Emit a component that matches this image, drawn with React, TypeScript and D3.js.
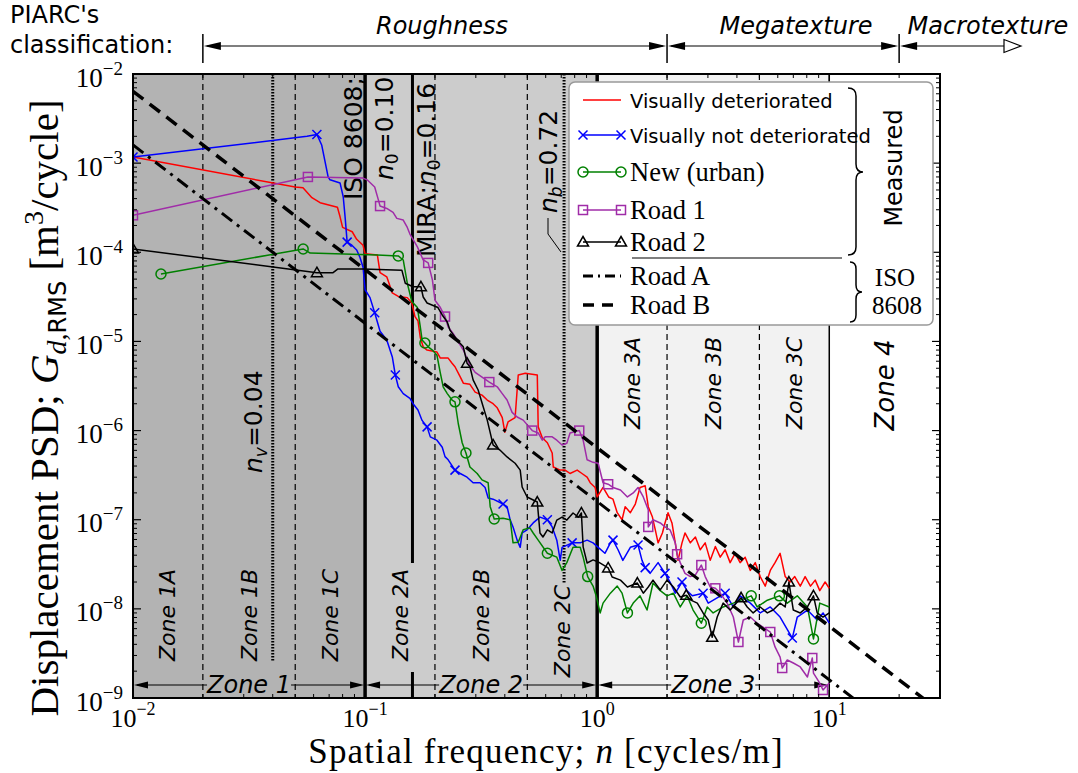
import React from "react";
import * as d3 from "d3";

type P = [number, number];

// ---------- data ----------
const xTickExponents = [-2, -1, 0, 1];
const yTickExponents = [-9, -8, -7, -6, -5, -4, -3, -2];

const zoneEdges = [0.01, 0.1, 1, 10, 30];
const subZoneEdges = [0.02, 0.05, 0.2, 0.5, 2, 5];
const mainZoneEdges = [0.1, 1];
const zone3End = 10;
const miraN0 = 0.16;
const nvValue = 0.04;
const nbValue = 0.72;
const piarcEdges = [0.02, 2, 20];

const roadA: P[] = [[0.01, 1.6e-3], [20, 4.0e-10]];
const roadB: P[] = [[0.01, 6.4e-3], [30, 7.1e-10]];

const redSeries: P[] = [
  [0.01, 1.17e-3], [0.05, 5.4e-4], [0.054, 5.3e-4], [0.059, 4.1e-4], [0.064, 3.6e-4], [0.076, 3.2e-4],
  [0.078, 2.5e-4], [0.08, 1.9e-4], [0.088, 1.7e-4], [0.092, 1.4e-4], [0.098, 1.2e-4], [0.1, 9.6e-5],
  [0.113, 9.3e-5], [0.116, 5.9e-5], [0.124, 5.3e-5], [0.131, 3.5e-5], [0.139, 3.2e-5], [0.152, 3.1e-5],
  [0.159, 2.7e-5], [0.164, 1.9e-5], [0.169, 1.7e-5], [0.173, 1.1e-5], [0.178, 8.7e-6], [0.185, 8.0e-6],
  [0.204, 7.6e-6], [0.211, 6.5e-6], [0.228, 6.5e-6], [0.237, 5.7e-6], [0.244, 5.2e-6], [0.257, 4.0e-6],
  [0.265, 3.4e-6], [0.283, 3.3e-6], [0.298, 2.7e-6], [0.319, 2.5e-6], [0.336, 2.2e-6], [0.356, 2.0e-6],
  [0.371, 1.8e-6], [0.39, 1.4e-6], [0.4, 9.6e-7], [0.413, 1.25e-6], [0.443, 1.4e-6], [0.457, 4.2e-6],
  [0.49, 4.4e-6], [0.552, 4.2e-6], [0.557, 1.1e-6], [0.58, 8.3e-7], [0.61, 7.3e-7], [0.64, 5.6e-7],
  [0.647, 3.9e-7], [0.693, 3.6e-7], [0.728, 3.6e-7], [0.764, 3.3e-7], [0.82, 3.6e-7], [0.86, 3.3e-7],
  [0.905, 3.0e-7], [0.933, 2.6e-7], [0.98, 2.3e-7], [1.0, 1.8e-7], [1.06, 2.3e-7], [1.12, 1.8e-7],
  [1.17, 1.7e-7], [1.22, 1.2e-7], [1.28, 1.0e-7], [1.32, 1.4e-7], [1.39, 1.2e-7], [1.46, 1.5e-7],
  [1.53, 2.3e-7], [1.61, 2.4e-7], [1.66, 1.4e-7], [1.73, 1.07e-7], [1.78, 7.7e-8], [1.83, 5.5e-8],
  [1.91, 7.1e-8], [1.96, 9.2e-8], [2.02, 1.2e-7], [2.1, 9.2e-8], [2.17, 5.5e-8], [2.23, 3.5e-8],
  [2.32, 5.5e-8], [2.39, 7.1e-8], [2.52, 5.5e-8], [2.65, 6.4e-8], [2.78, 4.6e-8], [2.92, 5.5e-8],
  [3.07, 3.5e-8], [3.23, 5.0e-8], [3.39, 3.8e-8], [3.56, 4.6e-8], [3.74, 3.3e-8], [3.93, 4.2e-8],
  [4.13, 3.3e-8], [4.34, 3.8e-8], [4.57, 2.7e-8], [4.8, 3.3e-8], [5.04, 2.3e-8], [5.3, 1.8e-8],
  [5.57, 2.7e-8], [5.84, 3.3e-8], [6.14, 4.2e-8], [6.46, 2.3e-8], [6.78, 2.0e-8], [7.1, 2.3e-8],
  [7.5, 1.8e-8], [7.87, 2.3e-8], [8.3, 1.8e-8], [8.7, 2.1e-8], [9.1, 1.6e-8], [9.6, 2.0e-8], [10, 1.7e-8],
];

const blueSeries: P[] = [
  [0.01, 1.17e-3], [0.0562, 2.0e-3], [0.062, 2.1e-3], [0.065, 1.6e-3], [0.0693, 7.0e-4], [0.0706, 6.5e-4],
  [0.078, 6.0e-4], [0.0805, 4.2e-4], [0.082, 2.5e-4], [0.0837, 1.3e-4], [0.0877, 1.2e-4], [0.092, 1.06e-4],
  [0.095, 8.8e-5], [0.098, 6.8e-5], [0.1, 3.8e-5], [0.105, 3.1e-5], [0.11, 2.1e-5], [0.116, 1.3e-5],
  [0.124, 1.04e-5], [0.131, 6.7e-6], [0.135, 4.2e-6], [0.139, 3.1e-6], [0.146, 2.6e-6], [0.156, 2.3e-6],
  [0.161, 2.0e-6], [0.169, 1.7e-6], [0.176, 1.3e-6], [0.185, 1.1e-6], [0.191, 8.5e-7], [0.204, 7.8e-7],
  [0.215, 6.5e-7], [0.221, 5.1e-7], [0.228, 4.7e-7], [0.244, 3.6e-7], [0.257, 3.3e-7], [0.275, 3.0e-7],
  [0.292, 2.6e-7], [0.313, 2.6e-7], [0.329, 2.3e-7], [0.339, 1.75e-7], [0.356, 1.7e-7], [0.393, 1.5e-7],
  [0.409, 1.4e-7], [0.422, 9.9e-8], [0.434, 8.3e-8], [0.452, 5.9e-8], [0.466, 4.9e-8], [0.475, 7.1e-8],
  [0.499, 7.7e-8], [0.53, 9.2e-8], [0.567, 1.07e-7], [0.61, 1.0e-7], [0.64, 8.3e-8], [0.67, 5.9e-8],
  [0.693, 3.5e-8], [0.706, 4.9e-8], [0.78, 5.5e-8], [0.845, 5.5e-8], [0.905, 5.9e-8], [0.96, 5.5e-8],
  [1.01, 4.9e-8], [1.08, 4.2e-8], [1.14, 5.5e-8], [1.17, 5.9e-8], [1.23, 4.6e-8], [1.29, 3.5e-8],
  [1.39, 4.9e-8], [1.5, 5.2e-8], [1.56, 3.5e-8], [1.61, 2.9e-8], [1.69, 2.5e-8], [1.78, 3.0e-8],
  [1.83, 3.3e-8], [1.96, 2.5e-8], [2.06, 2.0e-8], [2.17, 1.5e-8], [2.32, 2.0e-8], [2.44, 1.6e-8],
  [2.57, 1.4e-8], [2.86, 1.5e-8], [3.01, 1.16e-8], [3.56, 1.5e-8], [3.86, 1.05e-8], [4.13, 1.4e-8],
  [4.57, 1.16e-8], [5.04, 9.0e-9], [5.57, 1.05e-8], [6.14, 8.1e-9], [6.93, 4.7e-9], [7.28, 8.1e-9],
  [8.05, 9.7e-9], [8.87, 7.5e-9], [9.4, 9.0e-9], [10, 6.9e-9],
];
const blueMarkers: P[] = [
  [0.01, 1.17e-3], [0.062, 2.1e-3], [0.0837, 1.3e-4], [0.11, 2.1e-5], [0.135, 4.2e-6], [0.185, 1.1e-6],
  [0.244, 3.6e-7], [0.393, 1.5e-7], [0.61, 1.0e-7], [0.78, 5.5e-8], [1.17, 5.9e-8], [1.5, 5.2e-8],
  [1.61, 2.9e-8], [1.96, 2.5e-8], [2.32, 2.0e-8], [2.86, 1.5e-8], [3.56, 1.5e-8], [6.93, 4.7e-9],
];

const greenSeries: P[] = [
  [0.0132, 5.7e-5], [0.0541, 1.09e-4], [0.058, 9.8e-5], [0.113, 9.3e-5], [0.139, 9.1e-5], [0.146, 8.2e-5],
  [0.152, 4.5e-5], [0.159, 2.8e-5], [0.168, 2.4e-5], [0.173, 1.45e-5], [0.176, 1.04e-5], [0.181, 9.6e-6],
  [0.187, 8.7e-6], [0.195, 8.0e-6], [0.204, 7.0e-6], [0.211, 4.4e-6], [0.217, 3.1e-6], [0.226, 2.6e-6],
  [0.237, 2.2e-6], [0.244, 2.1e-6], [0.252, 1.2e-6], [0.262, 7.3e-7], [0.272, 5.6e-7], [0.283, 3.9e-7],
  [0.304, 3.3e-7], [0.319, 2.8e-7], [0.339, 2.6e-7], [0.346, 1.4e-7], [0.36, 1.02e-7], [0.393, 1.04e-7],
  [0.422, 1.0e-7], [0.434, 5.5e-8], [0.457, 5.6e-8], [0.48, 7.7e-8], [0.513, 8.1e-8], [0.53, 7.1e-8],
  [0.557, 5.9e-8], [0.61, 4.2e-8], [0.64, 4.0e-8], [0.67, 3.8e-8], [0.706, 2.7e-8], [0.74, 3.3e-8],
  [0.787, 4.9e-8], [0.845, 4.9e-8], [0.87, 3.8e-8], [0.91, 2.3e-8], [0.96, 1.8e-8], [0.99, 1.4e-8],
  [1.03, 9.0e-9], [1.06, 1.16e-8], [1.14, 1.5e-8], [1.22, 1.8e-8], [1.28, 1.5e-8], [1.35, 9.0e-9],
  [1.43, 1.16e-8], [1.53, 1.4e-8], [1.64, 9.7e-9], [1.74, 1.95e-8], [1.87, 1.6e-8], [2.0, 1.4e-8],
  [2.13, 1.5e-8], [2.28, 1.05e-8], [2.44, 1.4e-8], [2.59, 9.7e-9], [2.81, 6.9e-9], [2.98, 1.05e-8],
  [3.16, 9.0e-9], [3.49, 1.05e-8], [3.86, 1.16e-8], [4.61, 1.4e-8], [4.89, 1.05e-8], [5.41, 1.25e-8],
  [6.1, 1.4e-8], [6.59, 1.16e-8], [7.28, 1.4e-8], [8.05, 1.05e-8], [8.55, 4.6e-9], [9.1, 1.16e-8],
  [10, 1.05e-8],
];
const greenMarkers: P[] = [
  [0.0132, 5.7e-5], [0.0541, 1.09e-4], [0.139, 9.1e-5], [0.181, 9.6e-6], [0.244, 2.1e-6], [0.272, 5.6e-7],
  [0.36, 1.02e-7], [0.61, 4.2e-8], [0.91, 2.3e-8], [1.35, 9.0e-9], [2.81, 6.9e-9], [4.61, 1.4e-8],
  [6.1, 1.4e-8], [8.55, 4.6e-9],
];

const purpleSeries: P[] = [
  [0.01, 2.6e-4], [0.0567, 7.0e-4], [0.098, 6.8e-4], [0.102, 6.5e-4], [0.11, 5.4e-4], [0.114, 3.9e-4],
  [0.116, 3.3e-4], [0.124, 3.1e-4], [0.132, 2.8e-4], [0.137, 2.4e-4], [0.146, 2.3e-4], [0.152, 1.9e-4],
  [0.156, 1.6e-4], [0.168, 1.15e-4], [0.178, 8.2e-5], [0.187, 7.6e-5], [0.195, 4.9e-5], [0.2, 2.9e-5],
  [0.211, 2.4e-5], [0.221, 1.9e-5], [0.228, 1.45e-5], [0.239, 1.24e-5], [0.249, 1.04e-5], [0.265, 8.0e-6],
  [0.283, 5.4e-6], [0.298, 4.5e-6], [0.343, 3.5e-6], [0.371, 3.1e-6], [0.39, 2.6e-6], [0.409, 2.2e-6],
  [0.43, 1.6e-6], [0.452, 1.42e-6], [0.48, 1.31e-6], [0.525, 1.0e-6], [0.557, 9.4e-7], [0.58, 7.8e-7],
  [0.597, 8.5e-7], [0.64, 8.5e-7], [0.67, 7.8e-7], [0.706, 6.9e-7], [0.74, 7.2e-7], [0.764, 9.4e-7],
  [0.837, 1.0e-6], [0.87, 7.8e-7], [0.905, 4.7e-7], [0.96, 4.4e-7], [1.01, 4.3e-7], [1.06, 2.6e-7],
  [1.115, 2.5e-7], [1.17, 2.3e-7], [1.26, 2.15e-7], [1.35, 1.8e-7], [1.43, 2.0e-7], [1.5, 2.3e-7],
  [1.58, 1.8e-7], [1.66, 1.29e-7], [1.66, 8.3e-8], [1.74, 1.0e-7], [1.87, 9.2e-8], [1.96, 8.3e-8],
  [2.06, 7.7e-8], [2.17, 5.5e-8], [2.21, 4.1e-8], [2.28, 3.3e-8], [2.39, 2.5e-8], [2.52, 2.3e-8],
  [2.65, 2.4e-8], [2.81, 3.1e-8], [2.92, 2.3e-8], [3.07, 1.76e-8], [3.23, 1.7e-8], [3.39, 1.5e-8],
  [3.63, 1.16e-8], [3.86, 8.1e-9], [4.06, 4.25e-9], [4.26, 7.5e-9], [4.57, 8.1e-9], [4.89, 6.9e-9],
  [5.57, 5.5e-9], [5.84, 3.74e-9], [6.14, 2.88e-9], [6.27, 2.17e-9], [6.59, 2.67e-9], [7.0, 2.47e-9],
  [7.5, 2.23e-9], [8.05, 1.72e-9], [8.45, 2.81e-9], [8.55, 1.9e-9], [9.1, 1.47e-9], [9.4, 1.23e-9],
  [10, 1.47e-9],
];
const purpleMarkers: P[] = [
  [0.01, 2.6e-4], [0.0567, 7.0e-4], [0.116, 3.3e-4], [0.187, 7.6e-5], [0.221, 1.9e-5], [0.343, 3.5e-6],
  [0.525, 1.0e-6], [0.837, 1.0e-6], [1.115, 2.5e-7], [1.66, 8.3e-8], [2.21, 4.1e-8], [2.81, 3.1e-8],
  [3.23, 1.7e-8], [4.06, 4.25e-9], [5.57, 5.5e-9], [6.27, 2.17e-9], [8.45, 2.81e-9], [9.4, 1.23e-9],
];

const blackSeries: P[] = [
  [0.01, 1.09e-4], [0.062, 5.9e-5], [0.0728, 5.9e-5], [0.0764, 6.5e-5], [0.098, 6.5e-5], [0.144, 6.3e-5],
  [0.149, 4.5e-5], [0.161, 4.1e-5], [0.174, 4.1e-5], [0.178, 3.15e-5], [0.185, 2.7e-5], [0.206, 2.4e-5],
  [0.215, 1.98e-5], [0.226, 1.65e-5], [0.232, 1.34e-5], [0.249, 1.04e-5], [0.265, 8.7e-6], [0.275, 5.7e-6],
  [0.283, 5.2e-6], [0.292, 3.7e-6], [0.307, 2.85e-6], [0.323, 1.84e-6], [0.336, 1.31e-6], [0.356, 6.9e-7],
  [0.381, 6.05e-7], [0.409, 5.06e-7], [0.443, 4.3e-7], [0.466, 3.6e-7], [0.475, 2.33e-7], [0.499, 1.8e-7],
  [0.552, 1.58e-7], [0.567, 7.1e-8], [0.584, 6.4e-8], [0.61, 7.7e-8], [0.64, 7.1e-8], [0.67, 9.9e-8],
  [0.706, 1.07e-7], [0.74, 9.9e-8], [0.787, 1.19e-7], [0.83, 1.07e-7], [0.855, 1.19e-7], [0.87, 4.95e-8],
  [0.905, 3.27e-8], [0.96, 3.54e-8], [1.01, 3.36e-8], [1.115, 2.88e-8], [1.16, 2.28e-8], [1.26, 2.1e-8],
  [1.35, 1.76e-8], [1.49, 1.95e-8], [1.58, 1.5e-8], [1.66, 1.76e-8], [1.74, 2.1e-8], [1.87, 1.63e-8],
  [2.0, 2.1e-8], [2.13, 1.76e-8], [2.28, 1.36e-8], [2.42, 1.42e-8], [2.52, 1.26e-8], [2.7, 1.16e-8],
  [2.86, 9.0e-9], [3.01, 7.5e-9], [3.13, 4.8e-9], [3.29, 8.1e-9], [3.49, 1.16e-8], [3.74, 9.7e-9],
  [4.17, 1.33e-8], [4.43, 1.05e-8], [4.7, 9.0e-9], [5.04, 1.05e-8], [5.41, 9.0e-9], [5.73, 9.7e-9],
  [6.14, 1.16e-8], [6.46, 1.05e-8], [6.7, 2.0e-8], [7.0, 9.7e-9], [7.5, 9.0e-9], [8.05, 1.05e-8],
  [8.55, 1.4e-8], [8.87, 9.0e-9], [9.4, 8.1e-9], [10, 9.0e-9],
];
const blackMarkers: P[] = [
  [0.01, 1.09e-4], [0.062, 5.9e-5], [0.174, 4.1e-5], [0.275, 5.7e-6], [0.356, 6.9e-7], [0.552, 1.58e-7],
  [0.855, 1.19e-7], [1.115, 2.88e-8], [1.49, 1.95e-8], [2.42, 1.42e-8], [3.13, 4.8e-9], [4.17, 1.33e-8],
  [6.7, 2.0e-8], [8.55, 1.4e-8],
];

// ---------- layout / style ----------
const PL = 133, PR = 940, PT = 74, PB = 698;
const SERIF = "'Liberation Serif', 'Times New Roman', serif";
const SANS = "'DejaVu Sans', sans-serif";
const PURPLE = "#a02ca8";
const GREEN = "#008000";

type MK = "x" | "o" | "s" | "^" | "none";

function Marker({ t, cx, cy, c }: { t: MK; cx: number; cy: number; c: string }) {
  if (t === "x")
    return (
      <path d={`M${cx - 4.5},${cy - 4.5}L${cx + 4.5},${cy + 4.5}M${cx - 4.5},${cy + 4.5}L${cx + 4.5},${cy - 4.5}`} stroke={c} strokeWidth={1.5} />
    );
  if (t === "o") return <circle cx={cx} cy={cy} r={5} fill="none" stroke={c} strokeWidth={1.5} />;
  if (t === "s") return <rect x={cx - 4.5} y={cy - 4.5} width={9} height={9} fill="none" stroke={c} strokeWidth={1.5} />;
  if (t === "^")
    return <path d={`M${cx},${cy - 5.5}L${cx + 5.5},${cy + 4}L${cx - 5.5},${cy + 4}Z`} fill="none" stroke={c} strokeWidth={1.5} />;
  return null;
}

function head(tip: number, y: number, dir: number, len = 17, hw = 4) {
  return `${tip},${y} ${tip - dir * len},${y - hw} ${tip - dir * len},${y + hw}`;
}

function RotText({ x, y, children, size, family = SANS, anchor = "start", style = "normal" }: any) {
  return (
    <text
      transform={`translate(${x},${y}) rotate(-90)`}
      fontFamily={family}
      fontSize={size}
      fontStyle={style}
      textAnchor={anchor}
    >
      {children}
    </text>
  );
}

function expLabel(e: number) {
  return e < 0 ? "\u2212" + Math.abs(e) : String(e);
}

export default function App() {
  const x = d3.scaleLog().domain([zoneEdges[0], zoneEdges[zoneEdges.length - 1]]).range([PL, PR]);
  const y = d3.scaleLog().domain([1e-9, 1e-2]).range([PB, PT]);
  const line = d3
    .line<P>()
    .x((d) => x(d[0]))
    .y((d) => y(d[1]));

  const zoneFills = ["#b3b3b3", "#cccccc", "#f2f2f2", "#ffffff"];

  const xMinor: number[] = [];
  for (const e of xTickExponents) for (let m = 2; m <= 9; m++) { const v = m * Math.pow(10, e); if (v < 30) xMinor.push(v); }
  const yMinor: number[] = [];
  for (const e of yTickExponents.slice(0, -1)) for (let m = 2; m <= 9; m++) yMinor.push(m * Math.pow(10, e));

  const series: { d: P[]; c: string; m: P[]; t: MK }[] = [
    { d: redSeries, c: "#ff0000", m: [], t: "none" },
    { d: blueSeries, c: "#0000ff", m: blueMarkers, t: "x" },
    { d: greenSeries, c: GREEN, m: greenMarkers, t: "o" },
    { d: purpleSeries, c: PURPLE, m: purpleMarkers, t: "s" },
    { d: blackSeries, c: "#000000", m: blackMarkers, t: "^" },
  ];

  const zoneLabels: { t: string; n0: number; n1: number; cy: number; size: number }[] = [
    { t: "Zone 1A", n0: 0.01, n1: 0.02, cy: 615, size: 22 },
    { t: "Zone 1B", n0: 0.02, n1: 0.05, cy: 615, size: 22 },
    { t: "Zone 1C", n0: 0.05, n1: 0.1, cy: 615, size: 22 },
    { t: "Zone 2A", n0: 0.1, n1: 0.2, cy: 615, size: 22 },
    { t: "Zone 2B", n0: 0.2, n1: 0.5, cy: 615, size: 22 },
    { t: "Zone 2C", n0: 0.5, n1: 1, cy: 631, size: 22 },
    { t: "Zone 3A", n0: 1, n1: 2, cy: 383, size: 22 },
    { t: "Zone 3B", n0: 2, n1: 5, cy: 383, size: 22 },
    { t: "Zone 3C", n0: 5, n1: 10, cy: 383, size: 22 },
    { t: "Zone 4", n0: 10, n1: 30, cy: 385, size: 26 },
  ];

  const bottomZones = [
    { t: "Zone 1", a: 0.01, b: 0.1, fill: zoneFills[0] },
    { t: "Zone 2", a: 0.1, b: 1, fill: zoneFills[1] },
    { t: "Zone 3", a: 1, b: 10, fill: zoneFills[2] },
  ];

  const legendRows: { label: string; serif: boolean; c: string; t: MK; dash?: string; w?: number; y: number }[] = [
    { label: "Visually deteriorated", serif: false, c: "#ff0000", t: "none", y: 100 },
    { label: "Visually not deteriorated", serif: false, c: "#0000ff", t: "x", y: 135 },
    { label: "New (urban)", serif: true, c: GREEN, t: "o", y: 172 },
    { label: "Road 1", serif: true, c: PURPLE, t: "s", y: 210 },
    { label: "Road 2", serif: true, c: "#000", t: "^", y: 242 },
    { label: "Road A", serif: true, c: "#000", t: "none", dash: "10,5,2,5", w: 3, y: 276 },
    { label: "Road B", serif: true, c: "#000", t: "none", dash: "11,8", w: 3.5, y: 305 },
  ];

  const yBand = PB - PT;
  const zoneY = 685;

  return (
    <svg width={1078} height={773} style={{ position: "absolute", left: 0, top: 0, background: "#fff" }}>
      <defs>
        <clipPath id="plot">
          <rect x={PL} y={PT} width={PR - PL} height={yBand} />
        </clipPath>
      </defs>

      {zoneEdges.slice(0, -1).map((e, i) => (
        <rect key={i} x={x(e)} y={PT} width={x(zoneEdges[i + 1]) - x(e)} height={yBand} fill={zoneFills[i]} />
      ))}

      <g clipPath="url(#plot)">
        {subZoneEdges.map((n) => (
          <line key={n} x1={x(n)} x2={x(n)} y1={PT} y2={PB} stroke="#000" strokeWidth={1.2} strokeDasharray="6,4" />
        ))}
        {mainZoneEdges.map((n) => (
          <line key={n} x1={x(n)} x2={x(n)} y1={PT} y2={PB} stroke="#000" strokeWidth={3.5} />
        ))}
        <line x1={x(zone3End)} x2={x(zone3End)} y1={PT} y2={PB} stroke="#000" strokeWidth={1.5} />
        <line x1={x(miraN0)} x2={x(miraN0)} y1={PT} y2={563} stroke="#000" strokeWidth={3} />
        <line x1={x(miraN0)} x2={x(miraN0)} y1={672} y2={PB} stroke="#000" strokeWidth={3} />
        <line x1={x(nvValue)} x2={x(nvValue)} y1={PT} y2={662} stroke="#000" strokeWidth={3} strokeDasharray="1.5,1.5" />
        <line x1={x(nbValue)} x2={x(nbValue)} y1={PT} y2={583} stroke="#000" strokeWidth={3} strokeDasharray="1.5,1.5" />

        {zoneLabels.map((z) => (
          <text
            key={z.t}
            transform={`translate(${(x(z.n0) + x(z.n1)) / 2},${z.cy}) rotate(-90)`}
            fontFamily={SANS}
            fontStyle="italic"
            fontSize={z.size}
            textAnchor="middle"
            dominantBaseline="central"
          >
            {z.t}
          </text>
        ))}

        <RotText x={362} y={200} size={25}>ISO 8608;</RotText>
        <RotText x={393} y={180} size={25}>
          <tspan fontStyle="italic">n</tspan>
          <tspan fontSize={17} dy={5}>0</tspan>
          <tspan dy={-5}>=0.10</tspan>
        </RotText>
        <RotText x={435} y={257} size={25}>
          MIRA;
          <tspan fontStyle="italic">n</tspan>
          <tspan fontSize={17} dy={5}>0</tspan>
          <tspan dy={-5}>=0.16</tspan>
        </RotText>
        <RotText x={557} y={213} size={25}>
          <tspan fontStyle="italic">n</tspan>
          <tspan fontSize={17} dy={5} fontStyle="italic">b</tspan>
          <tspan dy={-5}>=0.72</tspan>
        </RotText>
        <polyline points="548,218 548,234 561,252" fill="none" stroke="#000" strokeWidth={1} />
        <RotText x={262} y={473} size={25}>
          <tspan fontStyle="italic">n</tspan>
          <tspan fontSize={17} dy={5} fontStyle="italic">v</tspan>
          <tspan dy={-5}>=0.04</tspan>
        </RotText>

        {bottomZones.map((z) => {
          const a = x(z.a), b = x(z.b), c = (a + b) / 2;
          return (
            <g key={z.t}>
              <line x1={a + 4} x2={b - 4} y1={zoneY} y2={zoneY} stroke="#000" strokeWidth={1.2} />
              <polygon points={head(a + 1, zoneY, -1, 14, 3.5)} fill="#000" />
              <polygon points={head(b - 1, zoneY, 1, 14, 3.5)} fill="#000" />
              <rect x={c - 42} y={zoneY - 11} width={84} height={22} fill={z.fill} />
              <text x={c} y={zoneY + 8} fontFamily={SANS} fontStyle="italic" fontSize={24} textAnchor="middle">
                {z.t}
              </text>
            </g>
          );
        })}

        {series.map((s, i) => (
          <g key={i}>
            <path d={line(s.d) || ""} fill="none" stroke={s.c} strokeWidth={1.5} strokeLinejoin="round" />
            {s.m.map((p, j) => (
              <Marker key={j} t={s.t} cx={x(p[0])} cy={y(p[1])} c={s.c} />
            ))}
          </g>
        ))}

        <path d={line(roadA) || ""} stroke="#000" strokeWidth={3} fill="none" strokeDasharray="13,6,3,6" />
        <path d={line(roadB) || ""} stroke="#000" strokeWidth={3.5} fill="none" strokeDasharray="13,8" />
      </g>

      {xTickExponents.map((e) => {
        const px = x(Math.pow(10, e));
        return (
          <g key={"xt" + e}>
            <line x1={px} x2={px} y1={PB} y2={PB - 8} stroke="#000" strokeWidth={1.2} />
            <line x1={px} x2={px} y1={PT} y2={PT + 8} stroke="#000" strokeWidth={1.2} />
            <text x={px} y={727} fontFamily={SERIF} fontSize={26} textAnchor="middle">
              10<tspan fontSize={18} dy={-12}>{expLabel(e)}</tspan>
            </text>
          </g>
        );
      })}
      {xMinor.map((v) => (
        <g key={"xm" + v}>
          <line x1={x(v)} x2={x(v)} y1={PB} y2={PB - 4} stroke="#000" strokeWidth={1} />
          <line x1={x(v)} x2={x(v)} y1={PT} y2={PT + 4} stroke="#000" strokeWidth={1} />
        </g>
      ))}
      {yTickExponents.map((e) => {
        const py = y(Math.pow(10, e));
        return (
          <g key={"yt" + e}>
            <line x1={PL} x2={PL + 8} y1={py} y2={py} stroke="#000" strokeWidth={1.2} />
            <line x1={PR} x2={PR - 8} y1={py} y2={py} stroke="#000" strokeWidth={1.2} />
            <text x={123} y={py + 12.5} fontFamily={SERIF} fontSize={27} textAnchor="end">
              10<tspan fontSize={19} dy={-12}>{expLabel(e)}</tspan>
            </text>
          </g>
        );
      })}
      {yMinor.map((v) => (
        <g key={"ym" + v}>
          <line x1={PL} x2={PL + 4} y1={y(v)} y2={y(v)} stroke="#000" strokeWidth={1} />
          <line x1={PR} x2={PR - 4} y1={y(v)} y2={y(v)} stroke="#000" strokeWidth={1} />
        </g>
      ))}

      <rect x={PL} y={PT} width={PR - PL} height={yBand} fill="none" stroke="#000" strokeWidth={2} />

      <text x={546} y={763} fontFamily={SERIF} fontSize={35} letterSpacing={1.2} textAnchor="middle">
        Spatial frequency; <tspan fontStyle="italic">n</tspan> [cycles/m]
      </text>
      <text transform="translate(58,408) rotate(-90)" fontFamily={SERIF} fontSize={41} textAnchor="middle">
        Displacement PSD; <tspan fontStyle="italic">G</tspan>
        <tspan fontSize={28} dy={8} fontStyle="italic">d,</tspan>
        <tspan fontSize={24} fontFamily={SANS}>RMS</tspan>
        <tspan dy={-8}> [m</tspan>
        <tspan fontSize={28} dy={-15}>3</tspan>
        <tspan dy={15}>/cycle]</tspan>
      </text>

      <text x={10} y={23} fontFamily={SANS} fontSize={24}>PIARC's</text>
      <text x={10} y={53} fontFamily={SANS} fontSize={24}>classification:</text>
      {piarcEdges.map((n) => (
        <line key={n} x1={x(n)} x2={x(n)} y1={34} y2={63} stroke="#000" strokeWidth={1.5} />
      ))}
      <line x1={x(piarcEdges[0]) + 4} x2={x(piarcEdges[1]) - 4} y1={46} y2={46} stroke="#000" strokeWidth={1.2} />
      <polygon points={head(x(piarcEdges[0]) + 1, 46, -1)} fill="#000" />
      <polygon points={head(x(piarcEdges[1]) - 1, 46, 1)} fill="#000" />
      <line x1={x(piarcEdges[1]) + 4} x2={x(piarcEdges[2]) - 4} y1={46} y2={46} stroke="#000" strokeWidth={1.2} />
      <polygon points={head(x(piarcEdges[1]) + 1, 46, -1)} fill="#000" />
      <polygon points={head(x(piarcEdges[2]) - 1, 46, 1)} fill="#000" />
      <line x1={x(piarcEdges[2]) + 4} x2={1004} y1={46} y2={46} stroke="#000" strokeWidth={1.2} />
      <polygon points={head(x(piarcEdges[2]) + 1, 46, -1)} fill="#000" />
      <polygon points={head(1021, 46, 1, 17, 6.5)} fill="#fff" stroke="#000" strokeWidth={1.2} />
      <text x={442} y={34} fontFamily={SANS} fontStyle="italic" fontSize={24} textAnchor="middle">Roughness</text>
      <text x={796} y={34} fontFamily={SANS} fontStyle="italic" fontSize={24} textAnchor="middle">Megatexture</text>
      <text x={988} y={34} fontFamily={SANS} fontStyle="italic" fontSize={24} textAnchor="middle">Macrotexture</text>

      <rect x={569} y={82} width={364} height={243} rx={6} fill="#fff" stroke="#999" strokeWidth={1.5} />
      {legendRows.map((r) => (
        <g key={r.label}>
          <line x1={583} x2={621} y1={r.y} y2={r.y} stroke={r.c} strokeWidth={r.w || 1.5} strokeDasharray={r.dash} />
          {r.t !== "none" && <Marker t={r.t} cx={583} cy={r.y} c={r.c} />}
          {r.t !== "none" && <Marker t={r.t} cx={621} cy={r.y} c={r.c} />}
          <text
            x={630}
            y={r.y + (r.serif ? 8.5 : 7.5)}
            fontFamily={r.serif ? SERIF : SANS}
            fontSize={r.serif ? 26.5 : 19.5}
          >
            {r.label}
          </text>
        </g>
      ))}
      <line x1={632} x2={842} y1={258} y2={258} stroke="#000" strokeWidth={1.2} />
      <path
        d="M848,88 Q856,88 856,96 L856,164 Q856,172 863,172 Q856,172 856,180 L856,247 Q856,255 848,255"
        fill="none"
        stroke="#000"
        strokeWidth={1.5}
      />
      <path
        d="M850,262 Q856,262 856,269 L856,285 Q856,292 862,292 Q856,292 856,299 L856,315 Q856,322 850,322"
        fill="none"
        stroke="#000"
        strokeWidth={1.5}
      />
      <text transform="translate(894,168) rotate(-90)" fontFamily={SANS} fontSize={24} textAnchor="middle" dominantBaseline="central">
        Measured
      </text>
      <text x={895} y={286} fontFamily={SERIF} fontSize={25} textAnchor="middle">ISO</text>
      <text x={897} y={314} fontFamily={SERIF} fontSize={25} textAnchor="middle">8608</text>
    </svg>
  );
}
